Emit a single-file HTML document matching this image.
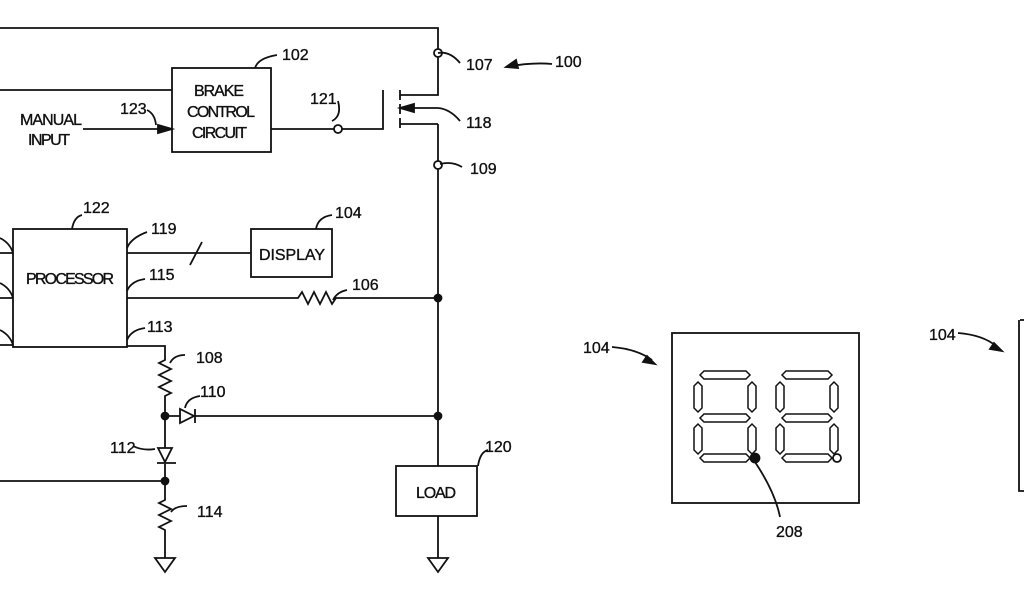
<!DOCTYPE html>
<html><head><style>body{margin:0;background:#fff}svg{display:block}text{font-family:"Liberation Sans",sans-serif;font-size:16px;fill:#111;stroke:#111;stroke-width:0.35}</style></head>
<body><svg width="1024" height="600" viewBox="0 0 1024 600" stroke="#111" stroke-width="1.8" fill="none">
<path d="M0 28H438V49M438 57V95H400M438 124V161M438 169V466M438 516V558"/>
<circle cx="438" cy="53" r="4"/><circle cx="438" cy="165" r="4"/>
<path d="M438 108H408"/><path d="M400 108l14-4v8z" fill="#111"/>
<path d="M400 90V100M400 104V114M400 118V128M383 90V129H342M334 129H271"/>
<circle cx="338" cy="129" r="4"/>
<path d="M400 124H438"/>
<rect x="172" y="68" width="99" height="84"/>
<path d="M0 90H172M83 129H160"/><path d="M172 129l-14-4v8z" fill="#111"/>
<path d="M147 110q8 4 9 15M255 68q3-10 22-13M332 121q10-5 6-20"/>
<rect x="13" y="229" width="114" height="118"/>
<path d="M127 253H251M190 265l12-23M127 298H298l4-6 6 12 6-12 6 12 6-12 6 12 4-6H438M127 346H165V360l-6 3 12 6-12 6 12 6-12 6 12 6-6 3V448M165 464V500l-6 3 12 6-12 6 12 6-12 6 6 3V558"/>
<path d="M0 253H13M0 345H13M0 298H13M0 238q10 5 13 15M0 283q10 5 13 15M0 330q10 5 13 15"/>
<rect x="251" y="229" width="81" height="48"/>
<path d="M72 229q2-12 10-14M127 248q4-10 20-16M127 291q4-10 18-12M127 340q4-10 18-12M316 229q2-12 16-14M333 300q4-8 14-10M170 363q4-8 15-8M185 408q2-10 15-12M133 446q10 5 22 3M171 512q4-6 16-6M478 466q2-14 10-16"/>
<path d="M165 416H180M195 416H438"/>
<path d="M180 409V423L194 416Z"/><path d="M195 409V423"/>
<path d="M158 448H172L165 462Z"/><path d="M157 463H176"/>
<path d="M0 481H165"/>
<circle cx="165" cy="416" r="3.5" fill="#111"/><circle cx="165" cy="481" r="3.5" fill="#111"/>
<circle cx="438" cy="298" r="3.5" fill="#111"/><circle cx="438" cy="416" r="3.5" fill="#111"/>
<rect x="396" y="466" width="81" height="50"/>
<path d="M155 558H175L165 572Z M428 558H448L438 572Z"/>
<path d="M460 121q-10-12-22-13M462 167q-10-6-22-3M460 63q-10-12-22-10"/>
<path d="M552 64q-20-2-46 3"/><path d="M506 67l10-7 2 8z" fill="#111"/>
<rect x="672" y="333" width="187" height="170"/>
<g stroke-width="1.5">
<path d="M700 375l4-4h42l4 4-4 4h-42z M700 418l4-4h42l4 4-4 4h-42z M700 458l4-4h42l4 4-4 4h-42z"/>
<path d="M694 386l4-4 4 4v22l-4 4-4-4z M748 386l4-4 4 4v22l-4 4-4-4z M694 428l4-4 4 4v22l-4 4-4-4z M748 428l4-4 4 4v22l-4 4-4-4z"/>
<path d="M782 375l4-4h42l4 4-4 4h-42z M782 418l4-4h42l4 4-4 4h-42z M782 458l4-4h42l4 4-4 4h-42z"/>
<path d="M776 386l4-4 4 4v22l-4 4-4-4z M830 386l4-4 4 4v22l-4 4-4-4z M776 428l4-4 4 4v22l-4 4-4-4z M830 428l4-4 4 4v22l-4 4-4-4z"/>
</g>
<circle cx="755" cy="458" r="4.5" fill="#111"/><circle cx="837" cy="458" r="4"/>
<path d="M755 462q20 30 25 55"/>
<path d="M612 347q25 2 40 13"/><path d="M655 364l-12-2 4-6z" fill="#111"/>
<path d="M958 333q25 2 38 13"/><path d="M1002 351l-12-2 4-6z" fill="#111"/>
<path d="M1020 320H1024M1019 320V491H1024"/>
<g fill="#111">
<text x="194" y="96" textLength="50">BRAKE</text><text x="187" y="117" textLength="68">CONTROL</text><text x="192" y="138" textLength="55">CIRCUIT</text>
<text x="20" y="125" textLength="62">MANUAL</text><text x="28" y="145" textLength="42">INPUT</text>
<text x="120" y="114">123</text><text x="282" y="60">102</text><text x="310" y="104">121</text>
<text x="466" y="70">107</text><text x="555" y="67">100</text><text x="466" y="128">118</text><text x="470" y="174">109</text>
<text x="83" y="213">122</text><text x="151" y="234">119</text><text x="149" y="280">115</text><text x="147" y="332">113</text>
<text x="335" y="218">104</text><text x="259" y="260" textLength="66">DISPLAY</text><text x="26" y="284" textLength="88">PROCESSOR</text>
<text x="352" y="290">106</text><text x="196" y="363">108</text><text x="200" y="397">110</text><text x="110" y="453">112</text>
<text x="197" y="517">114</text><text x="485" y="452">120</text><text x="416" y="498" textLength="40">LOAD</text>
<text x="583" y="353">104</text><text x="776" y="537">208</text><text x="929" y="340">104</text>
</g>
</svg></body></html>
